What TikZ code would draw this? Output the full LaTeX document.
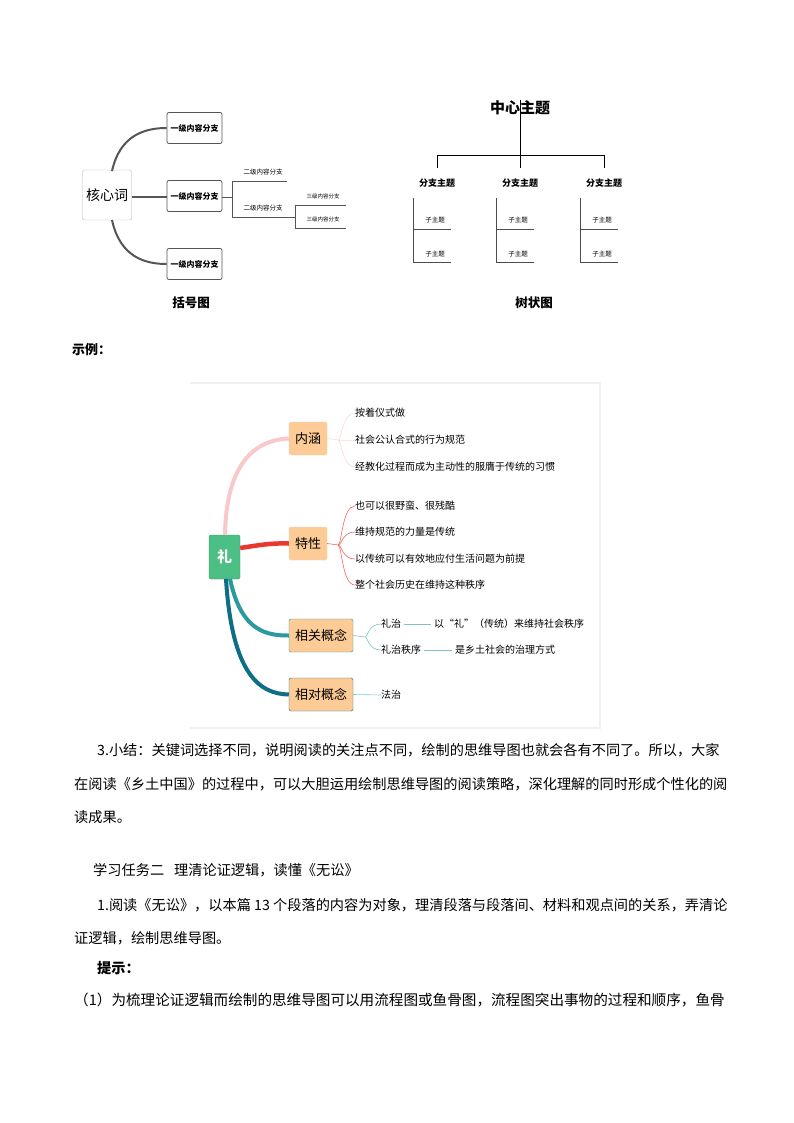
\documentclass[tikz,border=0pt]{standalone}
\usepackage{fontspec}
\setmainfont{Noto Sans CJK SC}
\newfontfamily\cjk{Noto Sans CJK SC}
\definecolor{dg}{HTML}{555555}
\definecolor{peach}{HTML}{FDCB95}
\definecolor{rgreen}{HTML}{4CBF85}
\definecolor{pinkc}{HTML}{F9C9C9}
\definecolor{redc}{HTML}{E8392F}
\definecolor{tealc}{HTML}{2A9A9F}
\definecolor{dtealc}{HTML}{0E6E86}
\definecolor{lpink}{HTML}{FBD9D9}
\definecolor{lred}{HTML}{EE6A62}
\definecolor{lteal}{HTML}{7CC3C8}
\tikzset{
 lbox/.style={draw=dg,rounded corners=2pt,line width=0.8pt,minimum width=55pt,minimum height=31pt,font=\bfseries\fontsize{8}{9}\selectfont,inner sep=1pt},
 tiny/.style={font=\fontsize{6.5}{7}\selectfont,inner sep=0pt},
 cbox/.style={fill=peach,draw=peach!80!black!40,rounded corners=1.5pt,minimum height=33pt,font=\fontsize{13}{14}\selectfont,inner sep=2pt},
 leaf/.style={font=\fontsize{10}{11}\selectfont,anchor=west,inner sep=0pt},
 body/.style={font=\fontsize{14.2}{15}\selectfont,anchor=west,inner sep=0pt},
}
\begin{document}
\begin{tikzpicture}[x=1pt,y=-1pt]
\useasboundingbox[fill=white] (0,0) rectangle (794,1123);
% bracket diagram
\node[draw=gray!60,rounded corners=2pt,minimum width=49pt,minimum height=50pt,font=\fontsize{14}{15}\selectfont,inner sep=1pt] (core) at (107,195) {核心词};
\node[lbox] (b1) at (194.5,128) {一级内容分支};
\node[lbox] (b2) at (194.5,196) {一级内容分支};
\node[lbox] (b3) at (194.5,264) {一级内容分支};
\draw[dg,line width=2pt] (112,171) .. controls (120,135) and (145,128) .. (b1.west);
\draw[dg,line width=2.5pt] (core.east |- 0,197) -- (b2.west |- 0,197);
\draw[dg,line width=2pt] (112,220) .. controls (120,257) and (145,264) .. (b3.west);
\coordinate (s1) at (287,181); \coordinate (s2) at (295,217);
\draw[dg,line width=0.7pt] (b2.east |- 0,197) -- (232,197) (232,181) -- (232,217) (232,181) -- (s1) (232,217) -- (s2) (295,205) -- (346,205) (295,205) -- (295,228) -- (346,228);
\node[tiny] (t21) at (263,172) {二级内容分支};
\node[tiny] (t22) at (263,208) {二级内容分支};
\node[tiny,font=\fontsize{5.5}{6}\selectfont] (t31) at (323,196) {三级内容分支};
\node[tiny,font=\fontsize{5.5}{6}\selectfont] (t32) at (323,219) {三级内容分支};
\node[font=\bfseries\fontsize{12.5}{13}\selectfont] (cap1) at (191,303) {括号图};
% tree
\node[font=\bfseries\fontsize{15}{16}\selectfont,inner sep=1pt] (ct) at (520,108) {中心主题};
\draw[black,line width=0.8pt] (520,100) -- (520,155) (437,168) -- (437,155) -- (604,155) -- (604,168) (520,155) -- (520,168);
\foreach \x/\n in {437/a,520/b,604/c}{
  \node[font=\bfseries\fontsize{9}{10}\selectfont,inner sep=0pt] (br\n) at (\x,183) {分支主题};
  \draw[black!70,line width=0.5pt] (\x-24,198) -- (\x-24,262) -- (\x+14,262) (\x-24,229) -- (\x+14,229);
  \node[tiny] (sa\n) at (\x-2,220) {子主题};
  \node[tiny] (sb\n) at (\x-2,254) {子主题};
}
\node[font=\bfseries\fontsize{12.5}{13}\selectfont] (cap2) at (534,303) {树状图};
\node[font=\bfseries\fontsize{13}{14}\selectfont,anchor=west,inner sep=0pt] (ex) at (72,350) {示例：};
% mind map
\draw[gray!12,line width=1.5pt] (190,383) -- (600,383) -- (600,728) -- (190,728);
\node[fill=rgreen,draw=rgreen!80!black,rounded corners=2pt,minimum width=31pt,minimum height=44pt,text=white,font=\bfseries\fontsize{15}{16}\selectfont,inner sep=0pt] (root) at (224.5,557) {礼};
\node[cbox,minimum width=38pt] (n1) at (308,438.5) {内涵};
\node[cbox,minimum width=38pt] (n2) at (308,543.5) {特性};
\node[cbox,minimum width=64pt,draw=tealc] (n3) at (321,635.5) {相关概念};
\node[cbox,minimum width=64pt,draw=dtealc] (n4) at (321,694.5) {相对概念};
\draw[pinkc,line width=4pt] (225,535) .. controls (226,470) and (250,440) .. (n1.west);
\draw[redc,line width=4.5pt] (root.east |- 0,548) .. controls (260,545) and (270,543) .. (n2.west);
\draw[tealc,line width=4pt] (230,579) .. controls (240,625) and (260,636) .. (n3.west);
\draw[dtealc,line width=4pt] (226,579) .. controls (232,675) and (260,694) .. (n4.west);
\coordinate (j1) at (338,440);
\draw[lpink,line width=0.6pt] (n1.east) -- (j1);
\foreach \y/\t [count=\i] in {413/按着仪式做,440/社会公认合式的行为规范,467/经教化过程而成为主动性的服膺于传统的习惯}{
  \node[leaf] (l1\i) at (355,\y) {\t};
  \draw[lpink,line width=0.6pt] (j1) .. controls (342,440) and (342,\y) .. (l1\i.west);
}
\coordinate (j2) at (338,545);
\draw[lred,line width=0.6pt] (n2.east) -- (j2);
\foreach \y/\t [count=\i] in {506/也可以很野蛮、很残酷,532/维持规范的力量是传统,559/以传统可以有效地应付生活问题为前提,585/整个社会历史在维持这种秩序}{
  \node[leaf] (l2\i) at (355,\y) {\t};
  \draw[lred,line width=0.6pt] (j2) .. controls (342,545) and (342,\y) .. (l2\i.west);
}
\coordinate (j3) at (365,637);
\draw[lteal,line width=0.6pt] (n3.east) -- (j3);
\node[leaf] (l31) at (381,624) {礼治};
\node[leaf] (l32) at (381,650) {礼治秩序};
\draw[lteal,line width=0.6pt] (j3) .. controls (368,637) and (368,624) .. (l31.west);
\draw[lteal,line width=0.6pt] (j3) .. controls (368,637) and (368,650) .. (l32.west);
\node[leaf] (m1) at (434,624) {以“礼”（传统）来维持社会秩序};
\node[leaf] (m2) at (455,650) {是乡土社会的治理方式};
\draw[lteal,line width=0.6pt] ([xshift=3pt]l31.east) -- ([xshift=-3pt]m1.west);
\draw[lteal,line width=0.6pt] ([xshift=3pt]l32.east) -- ([xshift=-3pt]m2.west);
\node[leaf] (l41) at (381,695) {法治};
\draw[lteal,line width=0.6pt] (n4.east) -- (l41.west);
% body text
\node[body] (p1) at (97,750) {3.小结：关键词选择不同，说明阅读的关注点不同，绘制的思维导图也就会各有不同了。所以，大家};
\node[body] (p2) at (74,784) {在阅读《乡土中国》的过程中，可以大胆运用绘制思维导图的阅读策略，深化理解的同时形成个性化的阅};
\node[body] (p3) at (74,817) {读成果。};
\node[body] (p4) at (93,870) {学习任务二\hspace{10pt}理清论证逻辑，读懂《无讼》};
\node[body] (p5) at (97,905) {1.阅读《无讼》，以本篇 13 个段落的内容为对象，理清段落与段落间、材料和观点间的关系，弄清论};
\node[body] (p6) at (74,938) {证逻辑，绘制思维导图。};
\node[body,font=\bfseries\fontsize{14.2}{15}\selectfont] (p7) at (97,968) {提示：};
\node[body,font=\fontsize{14.6}{15}\selectfont] (p8) at (74,1000) {（1）为梳理论证逻辑而绘制的思维导图可以用流程图或鱼骨图，流程图突出事物的过程和顺序，鱼骨};
\end{tikzpicture}
\end{document}
